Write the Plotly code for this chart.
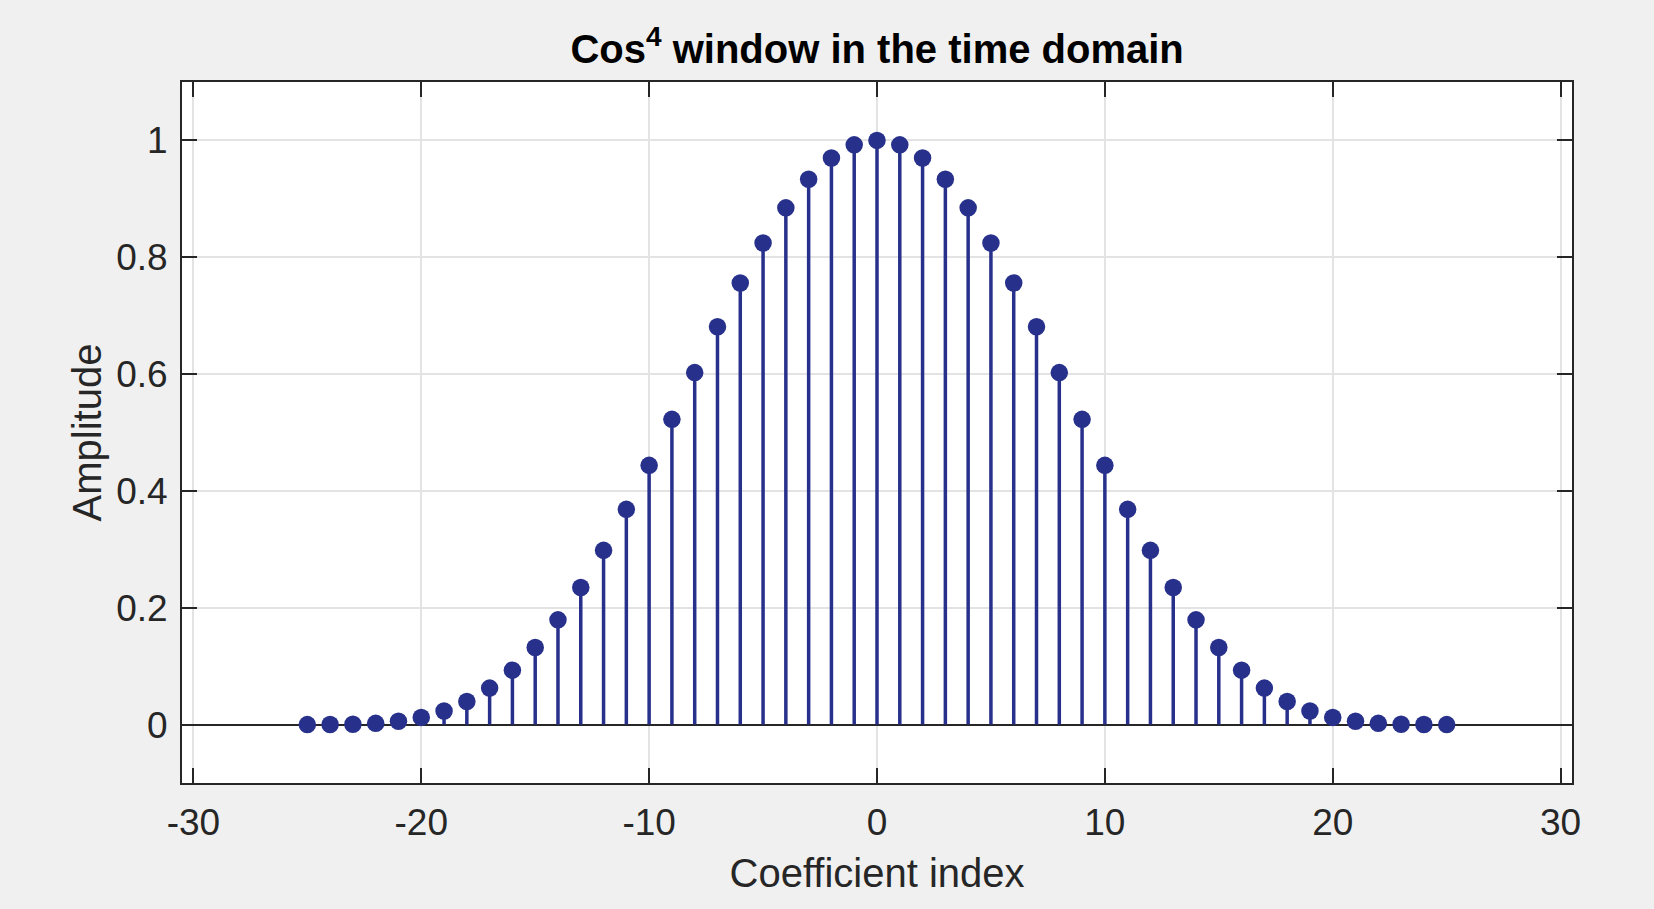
import plotly.graph_objects as go

# Coefficient indices and window amplitudes
n_index = list(range(-25, 26))
half_values = [1.0, 0.9924, 0.9700, 0.9336, 0.8846, 0.8245, 0.7560, 0.6811,
               0.6025, 0.5225, 0.4438, 0.3685, 0.2983, 0.2347, 0.1793, 0.1319,
               0.0932, 0.0625, 0.0395, 0.0232, 0.0123, 0.0056, 0.0021, 0.0006,
               0.0001, 0.0]
amplitude = half_values[:0:-1] + half_values

x_ticks = [-30, -20, -10, 0, 10, 20, 30]
y_ticks = [0, 0.2, 0.4, 0.6, 0.8, 1]
y_tick_labels = ["0", "0.2", "0.4", "0.6", "0.8", "1"]

STEM = "#27308B"
AX = "#262626"
GRID = "#e3e3e3"
FONT = "Liberation Sans, Arial, sans-serif"

stem_x, stem_y = [], []
for xi, yi in zip(n_index, amplitude):
    stem_x += [xi, xi, None]
    stem_y += [0, yi, None]

fig = go.Figure()
fig.add_trace(go.Scatter(x=stem_x, y=stem_y, mode="lines",
                         line=dict(color=STEM, width=3.5),
                         hoverinfo="skip", showlegend=False))
fig.add_trace(go.Scatter(x=n_index, y=amplitude, mode="markers",
                         marker=dict(color=STEM, size=17.5, line=dict(width=0)),
                         showlegend=False))

fig.update_layout(
    width=1654, height=909,
    paper_bgcolor="#f0f0f0", plot_bgcolor="white",
    margin=dict(l=182, r=82, t=82, b=126),
    font=dict(family=FONT, color=AX, size=37),
    title=dict(text="<b>Cos<sup>4</sup> window in the time domain</b>",
               x=0.5303, xanchor="center", y=0.946, yanchor="middle",
               font=dict(size=40, color="black", family=FONT)),
)
fig.update_xaxes(
    range=[-30.5, 30.5], tickvals=x_ticks, ticktext=[str(v) for v in x_ticks],
    showgrid=True, gridcolor=GRID, gridwidth=1.5, zeroline=False,
    showline=True, linecolor=AX, linewidth=2, mirror="ticks",
    ticks="inside", ticklen=15, tickwidth=2, tickcolor=AX,
    ticklabelstandoff=6,
    title=dict(text="Coefficient index", font=dict(size=40), standoff=17),
)
fig.update_yaxes(
    range=[-0.1, 1.1], tickvals=y_ticks, ticktext=y_tick_labels,
    showgrid=True, gridcolor=GRID, gridwidth=1.5,
    zeroline=True, zerolinecolor=AX, zerolinewidth=2,
    showline=True, linecolor=AX, linewidth=2, mirror="ticks",
    ticks="inside", ticklen=15, tickwidth=2, tickcolor=AX,
    ticklabelstandoff=5,
    title=dict(text="Amplitude", font=dict(size=40), standoff=2),
)

fig.write_html("out.html")
